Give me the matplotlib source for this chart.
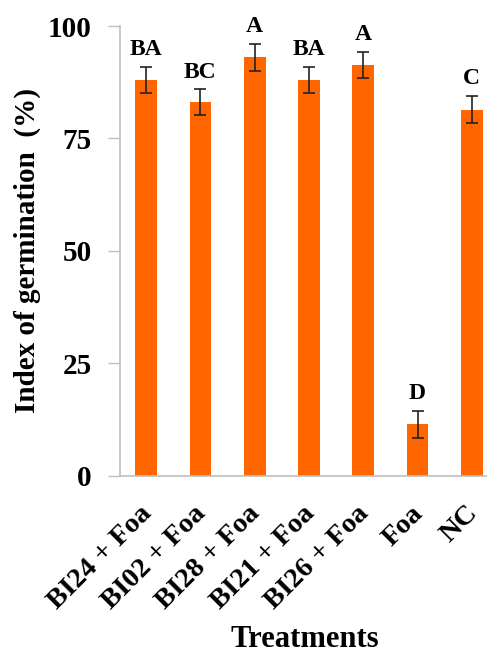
import matplotlib
matplotlib.use("Agg")
import matplotlib.pyplot as plt
import matplotlib.transforms as mtransforms
import numpy as np

treatments = ["BI24 + Foa", "BI02 + Foa", "BI28 + Foa", "BI21 + Foa", "BI26 + Foa", "Foa", "NC"]
germination = [88.1, 83.1, 93.1, 88.1, 91.4, 11.4, 81.4]
errors = [2.9, 2.8, 3.0, 2.9, 2.9, 3.0, 3.0]
letters = ["BA", "BC", "A", "BA", "A", "D", "C"]
yticks = [0, 25, 50, 75, 100]

plt.rcParams['font.family'] = ['Liberation Serif', 'DejaVu Serif']
plt.rcParams['font.weight'] = 'bold'

fig = plt.figure(figsize=(4.87, 6.54), dpi=100)
ax = fig.add_axes([0.2454, 0.2726, 1 - 0.2454, 0.6876])

x = np.arange(len(treatments))
ax.bar(x, germination, width=0.4, color='#FF6600', zorder=2)
ax.errorbar(x, germination, yerr=errors, fmt='none', ecolor='#222222',
            elinewidth=1.2, capsize=4.5, capthick=1.2, zorder=3)
for xi, v, e, lab in zip(x, germination, errors, letters):
    ax.text(xi, v + e + 1.5, lab, ha='center', va='bottom',
            fontsize=17, fontweight='bold')

ax.set_xlim(-0.49, 6.28)
ax.set_ylim(0, 100)
ax.set_yticks(yticks)
ax.set_yticklabels([str(t) for t in yticks], fontsize=21, fontweight='bold')
ax.set_xticks(x)
ax.set_xticklabels(treatments, rotation=45, ha='right', rotation_mode='anchor',
                   fontsize=20.5, fontweight='bold')
ax.tick_params(axis='x', length=0, pad=18)
ax.tick_params(axis='y', length=9, width=1, color='#BFBFBF', pad=11)
shift = mtransforms.ScaledTranslation(-7 / 100, 0, fig.dpi_scale_trans)
for lbl in ax.get_xticklabels():
    lbl.set_transform(lbl.get_transform() + shift)

for s in ['top', 'right']:
    ax.spines[s].set_visible(False)
for s in ['left', 'bottom']:
    ax.spines[s].set_color('#BFBFBF')
    ax.spines[s].set_linewidth(1.2)

ax.set_ylabel("Index of germination  (%)", fontsize=21, fontweight='bold', labelpad=5)
fig.text(0.625, 7 / 654, "Treatments", ha='center', va='baseline',
         fontsize=22, fontweight='bold')

fig.savefig("out.png", dpi=100)
